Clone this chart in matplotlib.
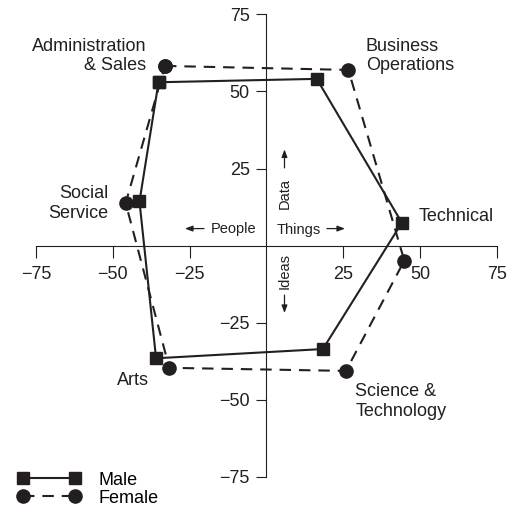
import matplotlib
matplotlib.use("Agg")
import matplotlib.pyplot as plt

plt.rcParams['font.family'] = ['Liberation Sans', 'DejaVu Sans']

# polygon order: Admin, Business, Technical, Science, Arts, Social
male_x = [-35.1, 16.4, 44.1, 18.4, -35.9, -41.3]
male_y = [53.0, 54.1, 7.4, -33.6, -36.6, 14.3]
female_x = [-33.0, 26.7, 44.9, 25.9, -31.6, -45.8]
female_y = [58.3, 57.0, -4.9, -40.7, -39.7, 13.8]

ticks = [-75, -50, -25, 25, 50, 75]

ink = '#231f20'

fig = plt.figure(figsize=(5.10, 5.08), dpi=100)
ax = fig.add_axes([0, 0, 1, 1])
ax.set_xlim(-86.7, 79.3)
ax.set_ylim(-85.2, 79.7)

for side in ['top', 'right']:
    ax.spines[side].set_visible(False)
for side in ['left', 'bottom']:
    ax.spines[side].set_position(('data', 0))
    ax.spines[side].set_bounds(-75, 75)
    ax.spines[side].set_linewidth(0.8)
    ax.spines[side].set_color(ink)

ax.set_xticks(ticks)
ax.set_yticks(ticks)
ax.set_xticklabels([str(t).replace('-', '\u2212') for t in ticks])
ax.set_yticklabels([str(t).replace('-', '\u2212') for t in ticks])
ax.tick_params(axis='x', direction='out', length=8.5, width=0.8, pad=6,
               labelsize=13, colors=ink)
ax.tick_params(axis='y', direction='out', length=7, width=0.8, pad=5,
               labelsize=13, colors=ink)

mx = male_x + male_x[:1]
my = male_y + male_y[:1]
fx = female_x + female_x[:1]
fy = female_y + female_y[:1]

ax.plot(fx, fy, color=ink, lw=1.5, dashes=(5.5, 3.8), marker='o', ms=9.5,
        label='Female', zorder=3)
ax.plot(mx, my, color=ink, lw=1.5, marker='s', ms=8.5, label='Male', zorder=4)

fs = 13
ls = 1.2
ax.text(-39.1, 67.4, 'Administration\n& Sales', ha='right', va='top',
        multialignment='right', fontsize=fs, color=ink, linespacing=ls)
ax.text(32.4, 67.4, 'Business\nOperations', ha='left', va='top',
        fontsize=fs, color=ink, linespacing=ls)
ax.text(49.4, 9.3, 'Technical', ha='left', va='center', fontsize=fs, color=ink)
ax.text(-51.5, 19.6, 'Social\nService', ha='right', va='top',
        multialignment='right', fontsize=fs, color=ink, linespacing=ls)
ax.text(-48.6, -41.0, 'Arts', ha='left', va='top', fontsize=fs, color=ink)
ax.text(28.9, -44.7, 'Science &\nTechnology', ha='left', va='top',
        fontsize=fs, color=ink, linespacing=ls)

# direction words with arrows
fs2 = 10.5
ax.text(-3.4, 5.4, 'People', ha='right', va='center', fontsize=fs2, color=ink)
ax.text(3.2, 5.0, 'Things', ha='left', va='center', fontsize=fs2, color=ink)
ax.text(5.9, 11.9, 'Data', ha='center', va='bottom', rotation=90,
        fontsize=fs2, color=ink)
ax.text(5.9, -2.3, 'Ideas', ha='center', va='top', rotation=90,
        fontsize=fs2, color=ink)

arrow = dict(arrowstyle='-|>,head_length=0.45,head_width=0.17', color=ink,
             lw=0.9, shrinkA=0, shrinkB=0, mutation_scale=10)
ax.annotate('', xy=(-26.5, 5.5), xytext=(-20.3, 5.5), arrowprops=arrow)
ax.annotate('', xy=(25.6, 5.5), xytext=(19.7, 5.5), arrowprops=arrow)
ax.annotate('', xy=(5.9, 31.2), xytext=(5.9, 25.2), arrowprops=arrow)
ax.annotate('', xy=(5.9, -21.9), xytext=(5.9, -16.1), arrowprops=arrow)

handles, labels = ax.get_legend_handles_labels()
ax.legend(handles[::-1], labels[::-1], loc='lower left',
          bbox_to_anchor=(0.016, -0.015), frameon=False, fontsize=13,
          numpoints=2, handlelength=3.5, handletextpad=1.0,
          labelspacing=0.05, borderpad=0.3, borderaxespad=0.2)

fig.savefig('out.png', dpi=100)
